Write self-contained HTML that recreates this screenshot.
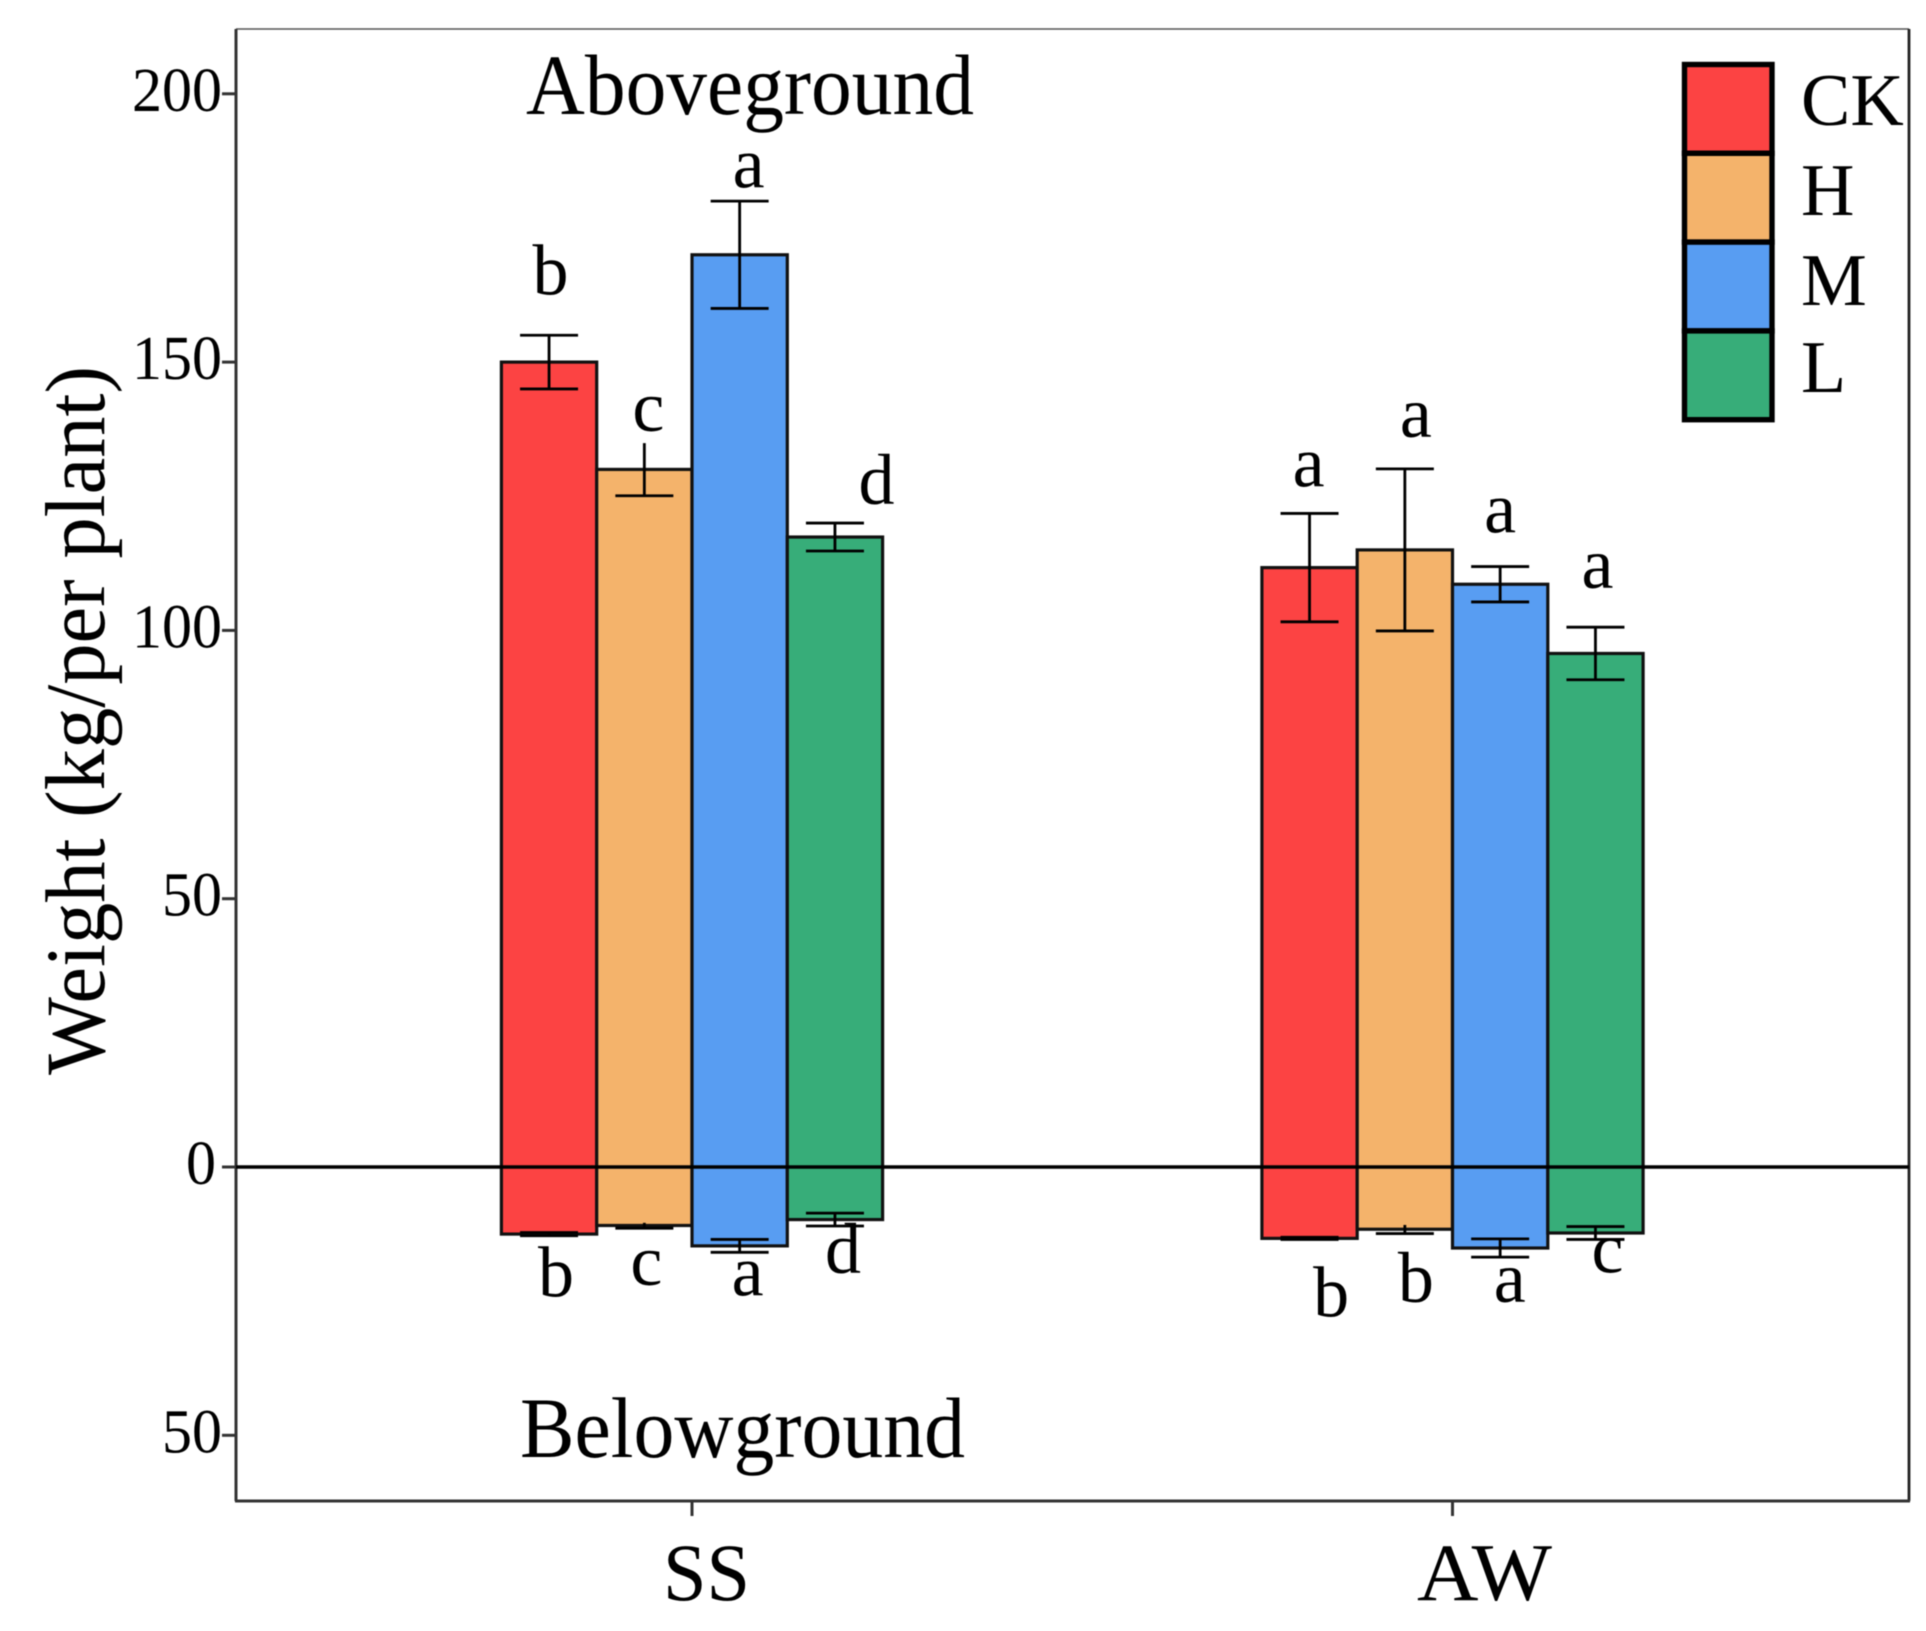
<!DOCTYPE html>
<html lang="en">
<head>
<meta charset="utf-8">
<title>Weight per plant, aboveground and belowground</title>
<style>
html,body{margin:0;padding:0;background:#fff;}
svg{display:block;font-family:"Liberation Serif",serif;fill:#000;filter:blur(0.6px);}
</style>
</head>
<body>
<svg id="chart" xmlns="http://www.w3.org/2000/svg" width="1926" height="1631" viewBox="0 0 1926 1631">
  <rect x="0" y="0" width="1926" height="1631" fill="#ffffff"/>
  <g id="bars"></g>
  <g id="errors"></g>
  <g id="axes"></g>
  <g id="letters"></g>
  <g id="legend"></g>
  <text transform="translate(104,1075) rotate(-90)" font-size="85" textLength="709" lengthAdjust="spacingAndGlyphs">Weight (kg/per plant)</text>
  <text x="526" y="114" font-size="86" textLength="448" lengthAdjust="spacingAndGlyphs">Aboveground</text>
  <text x="520" y="1457" font-size="86" textLength="445" lengthAdjust="spacingAndGlyphs">Belowground</text>
</svg>
<script>
const groups = ["SS", "AW"];
const treatments = ["CK", "H", "M", "L"];
const treatmentColors = ["#FC4343", "#F4B36B", "#589DF2", "#37AD79"];
const yTicks = [-50, 0, 50, 100, 150, 200];
const yTickLabels = ["50", "0", "50", "100", "150", "200"];
const aboveSS = [150, 130, 170, 117.4];
const aboveAW = [111.7, 115, 108.6, 95.7];
const belowSS = [12.5, 10.9, 14.7, 9.8];
const belowAW = [13.3, 11.6, 15.1, 12.3];
const aboveErrSS = [5, 4.9, 10, 2.6];
const aboveErrAW = [10.1, 15.1, 3.3, 4.9];
const belowErrSS = [0.3, 0.5, 1.2, 1.2];
const belowErrAW = [0.2, 0.8, 1.7, 1.2];
const aboveLettersSS = ["b", "c", "a", "d"];
const aboveLettersAW = ["a", "a", "a", "a"];
const belowLettersSS = ["b", "c", "a", "d"];
const belowLettersAW = ["b", "b", "a", "c"];

const NS = "http://www.w3.org/2000/svg";
const plot = { left: 236, right: 1909, top: 29, bottom: 1501 };
const BAR_W = 95.3;
const yScale = v => 1167 - 5.366 * v;
const xScale = g => 692 + 760.5 * g;
const barX = (g, t) => xScale(g) + (t - 2) * BAR_W;

function shape(parent, tag, attrs) {
  const el = document.createElementNS(NS, tag);
  for (const k in attrs) el.setAttribute(k, attrs[k]);
  parent.appendChild(el);
  return el;
}

const barsG = document.getElementById("bars");
const errG = document.getElementById("errors");
const axesG = document.getElementById("axes");
const lettersG = document.getElementById("letters");
const legendG = document.getElementById("legend");

const above = [aboveSS, aboveAW];
const below = [belowSS, belowAW];
const aboveErr = [aboveErrSS, aboveErrAW];
const belowErr = [belowErrSS, belowErrAW];
const aboveLetters = [aboveLettersSS, aboveLettersAW];
const belowLetters = [belowLettersSS, belowLettersAW];

/* hand placement of the letters, relative to the tip of each error bar */
const aboveNudge = [[[1.4,-41],[4,-12],[9,-13.5],[41.6,-19]], [[-1,-27],[11,-32],[0,-34],[2,-39]]];
const belowNudge = [[[7,61],[2,57],[8,43],[8,47]], [[21.6,77],[11,68.5],[9.6,45],[12,33]]];

function errorBar(g, t, hi, lo, label, showHighCap) {
  const cx = barX(g, t) + BAR_W / 2;
  const capW = 29;
  const stem = shape(errG, "line", { x1: cx, x2: cx, y1: yScale(hi), y2: yScale(lo), stroke: "#000", "stroke-width": 2.8 });
  
  
  if (showHighCap) {
    const capTop = shape(errG, "line", { x1: cx - capW, x2: cx + capW, y1: yScale(hi), y2: yScale(hi), stroke: "#000", "stroke-width": 2.8 });
    
    
  }
  const capBottom = shape(errG, "line", { x1: cx - capW, x2: cx + capW, y1: yScale(lo), y2: yScale(lo), stroke: "#000", "stroke-width": 2.8 });
  
  
}

function letter(text, x, y, label) {
  const el = shape(lettersG, "text", { x: x, y: y, "font-size": 72, "text-anchor": "middle" });
  el.textContent = text;
  
  
}

groups.forEach((gName, g) => {
  treatments.forEach((tName, t) => {
    const id = gName.toLowerCase() + '-' + tName.toLowerCase();
    const yTop = yScale(above[g][t]);
    const yBot = yScale(-below[g][t]);
    const bar = shape(barsG, "rect", {
      x: barX(g, t), y: yTop, width: BAR_W, height: yBot - yTop,
      fill: treatmentColors[t], stroke: "#111", "stroke-width": 3.2
    });
    
    

    /* the reference leaves out the upper cap on the H bars' stems */
    const isHInSS = g === 0 && t === 1;
    const isHInAW = g === 1 && t === 1;
    errorBar(g, t, above[g][t] + aboveErr[g][t], above[g][t] - aboveErr[g][t], 'error-above-' + id, !isHInSS);
    errorBar(g, t, -below[g][t] + belowErr[g][t], -below[g][t] - belowErr[g][t], 'error-below-' + id, !(isHInSS || isHInAW));

    const cx = barX(g, t) + BAR_W / 2;
    const tipHigh = yScale(above[g][t] + aboveErr[g][t]);
    const tipLow = yScale(-below[g][t] - belowErr[g][t]);
    letter(aboveLetters[g][t], cx + aboveNudge[g][t][0], tipHigh + aboveNudge[g][t][1], 'letter-above-' + id);
    letter(belowLetters[g][t], cx + belowNudge[g][t][0], tipLow + belowNudge[g][t][1], 'letter-below-' + id);
  });
});

/* frame */
const frameTop = shape(axesG, "line", { x1: plot.left, x2: plot.right, y1: plot.top, y2: plot.top, stroke: "#555", "stroke-width": 1.6 });


const frameRight = shape(axesG, "line", { x1: plot.right, x2: plot.right, y1: plot.top, y2: plot.bottom, stroke: "#222", "stroke-width": 2.8 });


const xAxis = shape(axesG, "line", { x1: plot.left - 1, x2: plot.right + 1, y1: plot.bottom, y2: plot.bottom, stroke: "#333", "stroke-width": 3 });


const yAxis = shape(axesG, "line", { x1: plot.left, x2: plot.left, y1: plot.top, y2: plot.bottom, stroke: "#333", "stroke-width": 3 });


const zeroLine = shape(axesG, "line", { x1: plot.left, x2: plot.right, y1: yScale(0), y2: yScale(0), stroke: "#000", "stroke-width": 3.6 });



yTicks.forEach((v, i) => {
  const tick = shape(axesG, "line", { x1: 222, x2: plot.left, y1: yScale(v), y2: yScale(v), stroke: "#333", "stroke-width": 3 });
  
  
  const label = yTickLabels[i];
  const lab = shape(axesG, "text", {
    x: 222 - (label.length === 1 ? 6 : 0), y: yScale(v) + 17, "font-size": 62, "text-anchor": "end",
    textLength: label.length * 30, lengthAdjust: "spacingAndGlyphs"
  });
  lab.textContent = label;
  
  
});

groups.forEach((gName, g) => {
  const tick = shape(axesG, "line", { x1: xScale(g), x2: xScale(g), y1: plot.bottom, y2: plot.bottom + 15, stroke: "#333", "stroke-width": 3 });
  
  
});
const ssLabel = shape(axesG, "text", { x: 663, y: 1600, "font-size": 82, textLength: 87, lengthAdjust: "spacingAndGlyphs" });
ssLabel.textContent = groups[0];


const awLabel = shape(axesG, "text", { x: 1417, y: 1600, "font-size": 82, textLength: 135, lengthAdjust: "spacingAndGlyphs" });
awLabel.textContent = groups[1];



/* legend */
const rowH = 88.8;
const legendBase = [125, 215, 305, 392];
treatments.forEach((tName, t) => {
  const swatch = shape(legendG, "rect", {
    x: 1684.5, y: 64.5 + t * rowH, width: 87.5, height: rowH,
    fill: treatmentColors[t], stroke: "#000", "stroke-width": 5.4
  });
  
  
  const lab = shape(legendG, "text", { x: 1801, y: legendBase[t], "font-size": 74 });
  lab.textContent = tName;
  
  
});
</script>
</body>
</html>
